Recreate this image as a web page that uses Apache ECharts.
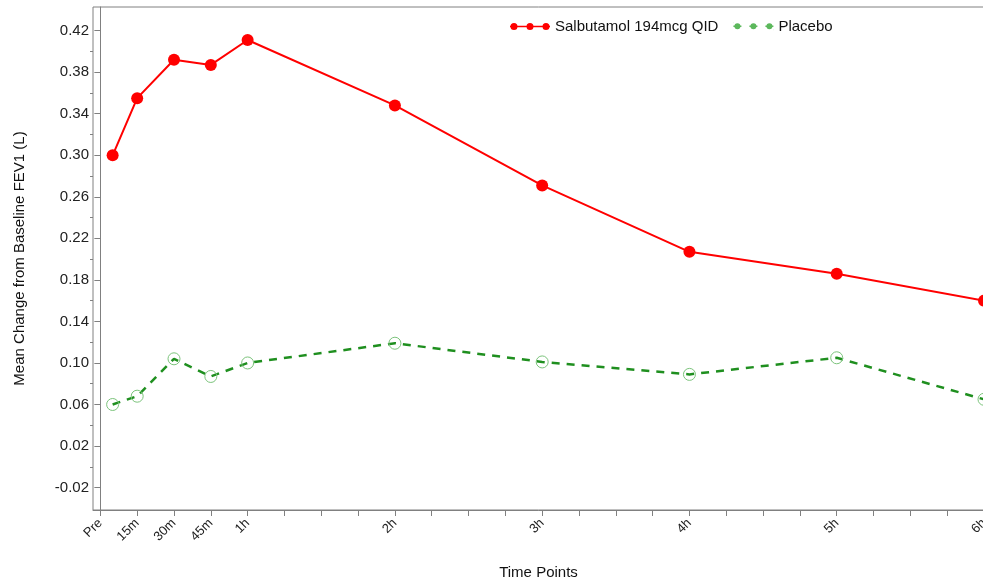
<!DOCTYPE html>
<html>
<head>
<meta charset="utf-8">
<script src="https://cdn.jsdelivr.net/npm/echarts@6/dist/echarts.min.js"></script>
<style>
  html, body { margin: 0; padding: 0; background: #fff; }
  #chart { width: 983px; height: 581px; }
</style>
</head>
<body>
<div id="chart"></div>
<script>
// ---- Data (time in minutes after dose; "Pre" plotted at 5) ----
const timeMinutes = [5, 15, 30, 45, 60, 120, 180, 240, 300, 360];
const salbutamol = [0.300, 0.355, 0.392, 0.387, 0.411, 0.348, 0.271, 0.207, 0.186, 0.160];
const placebo    = [0.060, 0.068, 0.104, 0.087, 0.100, 0.119, 0.101, 0.089, 0.105, 0.065];

const xLabelValues = [0, 15, 30, 45, 60, 120, 180, 240, 300, 360];
const xLabelTexts  = ['Pre', '15m', '30m', '45m', '1h', '2h', '3h', '4h', '5h', '6h'];
const xTickValues  = [0, 15, 30, 45, 60, 75, 90, 105, 120, 135, 150, 165, 180, 195, 210, 225, 240, 255, 270, 285, 300, 315, 330, 345, 360];

const yLabelValues = [-0.02, 0.02, 0.06, 0.10, 0.14, 0.18, 0.22, 0.26, 0.30, 0.34, 0.38, 0.42];
const yMinorValues = [0.00, 0.04, 0.08, 0.12, 0.16, 0.20, 0.24, 0.28, 0.32, 0.36, 0.40];

const seriesNames = ['Salbutamol 194mcg QID', 'Placebo'];

const FONT = '"Liberation Sans", Arial, sans-serif';
const AXIS_GRAY = '#808080';

function pairs(xs, ys) { return xs.map((x, i) => [x, ys[i]]); }

const redIcon = 'path://M0,3.2 L40,3.2 L40,4.8 L0,4.8 Z ' +
  'M0.5,4 A3.5,3.5 0 1 1 7.5,4 A3.5,3.5 0 1 1 0.5,4 Z ' +
  'M16.5,4 A3.5,3.5 0 1 1 23.5,4 A3.5,3.5 0 1 1 16.5,4 Z ' +
  'M32.5,4 A3.5,3.5 0 1 1 39.5,4 A3.5,3.5 0 1 1 32.5,4 Z';
const greenIcon = 'path://M0,3.2 L8,3.2 L8,4.8 L0,4.8 Z ' +
  'M16,3.2 L24,3.2 L24,4.8 L16,4.8 Z ' +
  'M32,3.2 L40,3.2 L40,4.8 L32,4.8 Z ' +
  'M1,4 A3,3 0 1 1 7,4 A3,3 0 1 1 1,4 Z ' +
  'M17,4 A3,3 0 1 1 23,4 A3,3 0 1 1 17,4 Z ' +
  'M33,4 A3,3 0 1 1 39,4 A3,3 0 1 1 33,4 Z ' +
  'M0,0.5 L0.5,0.5 L0.5,1 Z M39.5,7.5 L40,7.5 L40,8 Z';

const chart = echarts.init(document.getElementById('chart'), null, { renderer: 'canvas' });
const labelMap = {};
xLabelValues.forEach((v, i) => { labelMap[v] = xLabelTexts[i]; });

chart.setOption({
  animation: false,
  backgroundColor: '#fff',
  textStyle: { fontFamily: FONT },
  grid: {
    left: 93, right: -1, top: 7, bottom: 71,
    containLabel: false,
    outerBoundsMode: 'none',
    show: true, borderColor: AXIS_GRAY, borderWidth: 1, backgroundColor: 'transparent'
  },
  legend: {
    left: 505, top: 14,
    itemWidth: 40, itemHeight: 8, itemGap: 15,
    textStyle: { fontFamily: FONT, fontSize: 15, color: '#111' },
    data: [
      { name: seriesNames[0], icon: redIcon, itemStyle: { color: '#ff0000', borderWidth: 0 } },
      { name: seriesNames[1], icon: greenIcon, itemStyle: { color: '#5cb85c', borderWidth: 0 } }
    ]
  },
  xAxis: {
    type: 'value',
    min: -3, max: 360,
    name: 'Time Points',
    nameLocation: 'middle',
    nameGap: 55,
    nameTextStyle: { fontFamily: FONT, fontSize: 15, color: '#111' },
    axisLine: { show: true, onZero: false, lineStyle: { color: AXIS_GRAY, width: 1 } },
    axisTick: { show: true, length: 6, customValues: xTickValues, lineStyle: { color: AXIS_GRAY } },
    axisLabel: {
      customValues: xLabelValues,
      rotate: 45,
      margin: 11,
      fontFamily: FONT, fontSize: 13, color: '#222',
      formatter: v => labelMap[Math.round(v)] || ''
    },
    splitLine: { show: false }
  },
  yAxis: [
    {
      type: 'value',
      min: -0.0416, max: 0.4428,
      name: 'Mean Change from Baseline FEV1 (L)',
      nameLocation: 'middle',
      nameGap: 66,
      nameRotate: 90,
      nameTextStyle: { fontFamily: FONT, fontSize: 15, color: '#111' },
      axisLine: { show: true, lineStyle: { color: AXIS_GRAY, width: 1 } },
      axisTick: { show: true, length: 6, customValues: yLabelValues, lineStyle: { color: AXIS_GRAY } },
      axisLabel: {
        customValues: yLabelValues,
        margin: 4,
        fontFamily: FONT, fontSize: 15, color: '#222',
        formatter: v => v.toFixed(2)
      },
      splitLine: { show: false }
    },
    {
      type: 'value',
      position: 'left',
      min: -0.0416, max: 0.4428,
      axisLine: { show: false },
      axisTick: { show: true, length: 3, customValues: yMinorValues, lineStyle: { color: AXIS_GRAY } },
      axisLabel: { show: false },
      splitLine: { show: false }
    }
  ],
  series: [
    {
      name: seriesNames[0],
      type: 'line',
      data: pairs(timeMinutes, salbutamol),
      symbol: 'circle',
      symbolSize: 12,
      lineStyle: { color: '#ff0000', width: 2 },
      itemStyle: { color: '#ff0000' },
      z: 3
    },
    {
      name: seriesNames[1],
      type: 'line',
      data: pairs(timeMinutes, placebo),
      symbol: 'circle',
      symbolSize: 12,
      lineStyle: { color: '#1f8f1f', width: 2.5, type: [8, 7] },
      itemStyle: { color: 'rgba(0,0,0,0)', borderColor: '#7cc47c', borderWidth: 1 },
      z: 2
    }
  ]
});
</script>
</body>
</html>
